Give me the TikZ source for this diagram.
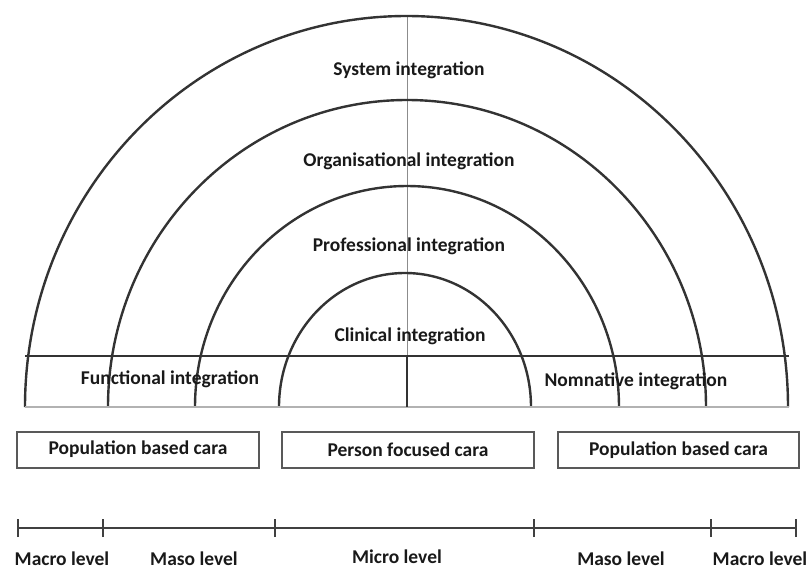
\documentclass[tikz,border=0pt]{standalone}
\usepackage{fontspec}
\setmainfont{Carlito}
\begin{document}
\begin{tikzpicture}[x=1pt,y=-1pt,
  ring/.style={draw=black!80,line width=2.4pt},
  lbl/.style={font=\bfseries\fontsize{19.5}{21}\selectfont,text=black!90,inner sep=0pt},
  carebox/.style={draw=black!65,line width=1.8pt,minimum height=36pt,inner sep=0pt,font=\bfseries\fontsize{19.5}{21}\selectfont,text=black!90},
  scaleline/.style={draw=black!75,line width=2.2pt},
  tick/.style={draw=black!75,line width=2pt}]
\useasboundingbox (0,0) rectangle (809,571);
% thin centre line
\coordinate (ctop) at (407,16);
\coordinate (cmid) at (407,356);
\coordinate (cbot) at (407,407);
\draw[black!45,line width=0.9pt] (ctop) -- (cmid);
% arcs
\draw[ring] (25,407) arc[start angle=180,end angle=360,x radius=381.5,y radius=391];
\draw[ring] (108,407) arc[start angle=180,end angle=360,x radius=299,y radius=307];
\draw[ring] (195,407) arc[start angle=180,end angle=360,x radius=212,y radius=221];
\draw[ring] (279,407) arc[start angle=180,end angle=360,x radius=126,y radius=134];
% horizontal lines
\coordinate (hl) at (25,356);
\coordinate (hr) at (789,356);
\coordinate (bl) at (25,407);
\coordinate (br) at (789,407);
\draw[ring] (hl) -- (hr);
\draw[black!30,line width=2pt] (bl) -- (br);
\draw[ring] (cmid) -- (cbot);
% labels
\node[lbl] (sys) at (409,70) {System integration};
\node[lbl] (org) at (409,161) {Organisational integration};
\node[lbl] (pro) at (409,246) {Professional integration};
\node[lbl] (cli) at (410,336) {Clinical integration};
\node[lbl] (fun) at (170,379) {Functional integration};
\node[lbl] (nom) at (636,381) {Nomnative integration};
% boxes
\node[carebox,minimum width=242pt] (popl) at (138,450) {\raisebox{4pt}{Population based cara}};
\node[carebox,minimum width=252pt] (pers) at (408,450) {Person focused cara};
\node[carebox,minimum width=241pt] (popr) at (678.5,450) {\raisebox{3pt}{Population based cara}};
% scale
\coordinate (t1) at (18,528);
\coordinate (t2) at (103,528);
\coordinate (t3) at (275,528);
\coordinate (t4) at (534,528);
\coordinate (t5) at (711,528);
\coordinate (t6) at (796,528);
\draw[scaleline] (t1) -- (t6);
\foreach \t in {t1,t2,t3,t4,t5,t6}
  \draw[tick] ([yshift=-9pt]\t.center) -- ([yshift=9pt]\t.center);
\node[lbl] (mal) at (62,559) {Macro level};
\node[lbl] (msl) at (194,559) {Maso level};
\node[lbl] (mic) at (397,557) {Micro level};
\node[lbl] (msr) at (621,559) {Maso level};
\node[lbl] (mar) at (760,559) {Macro level};
\end{tikzpicture}
\end{document}
